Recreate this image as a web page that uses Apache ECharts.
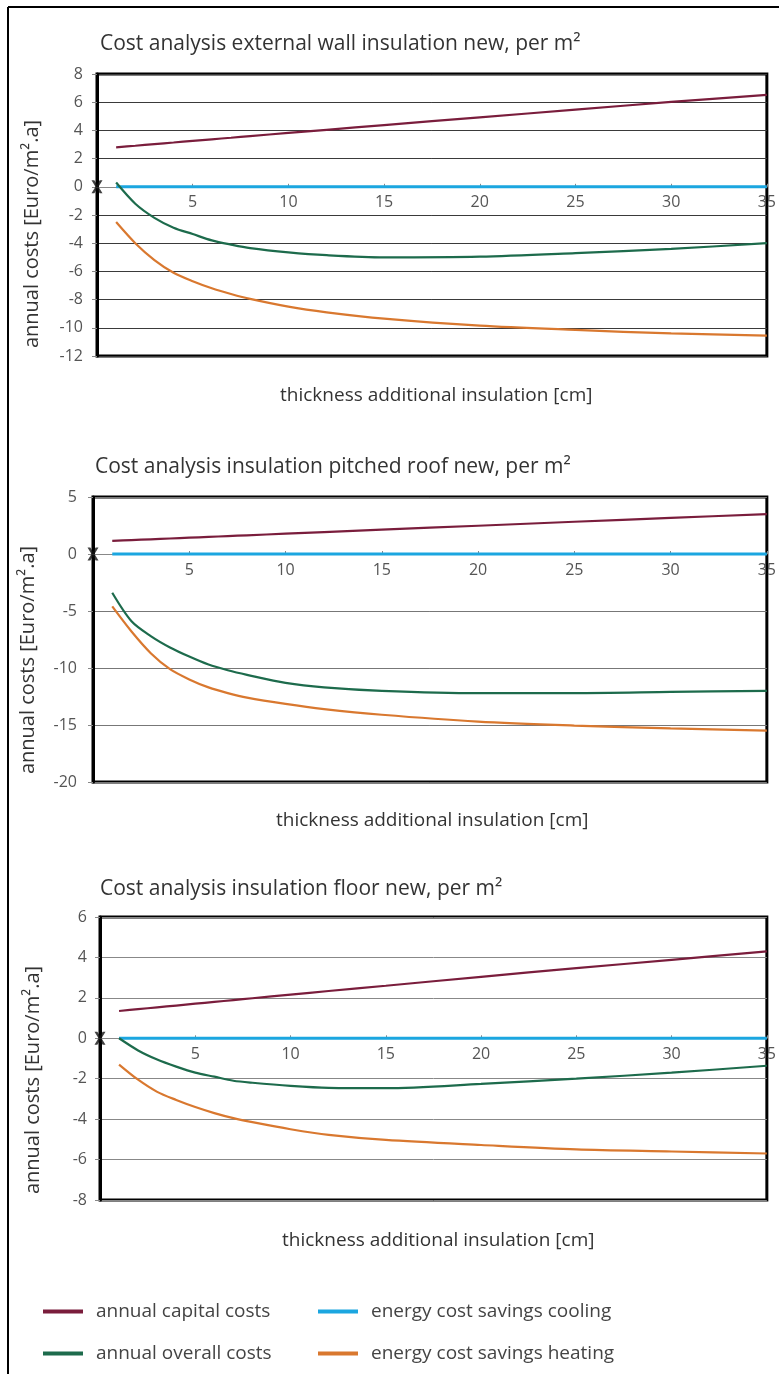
<!DOCTYPE html>
<html>
<head>
<meta charset="utf-8">
<script src="https://cdn.jsdelivr.net/npm/echarts@6/dist/echarts.min.js"></script>
<style>
html,body{margin:0;padding:0;background:#fff;}
#chart{width:779px;height:1374px;}
</style>
</head>
<body>
<div id="chart"></div>
<script>
// ---- data ----
const thickness = [1, 2, 3, 4, 5, 6, 7, 8, 10, 12, 15, 20, 25, 30, 35];

const titles = [
  'Cost analysis external wall insulation new, per m²',
  'Cost analysis insulation pitched roof new, per m²',
  'Cost analysis insulation floor new, per m²'
];
const xAxisName = 'thickness additional insulation [cm]';
const yAxisName = 'annual costs [Euro/m².a]';
const seriesNames = ['annual capital costs', 'annual overall costs', 'energy cost savings cooling', 'energy cost savings heating'];

// wall
const wallCapital = [2.8, 2.91, 3.03, 3.14, 3.26, 3.37, 3.48, 3.6, 3.82, 4.04, 4.38, 4.93, 5.47, 6.02, 6.52];
const wallOverall = [0.3, -1.2, -2.2, -2.9, -3.35, -3.8, -4.1, -4.35, -4.65, -4.85, -5.0, -4.95, -4.7, -4.4, -4.0];
const wallCooling = [0, 0, 0, 0, 0, 0, 0, 0, 0, 0, 0, 0, 0, 0, 0];
const wallHeating = [-2.5, -4.0, -5.2, -6.1, -6.7, -7.2, -7.6, -7.95, -8.5, -8.9, -9.35, -9.85, -10.15, -10.4, -10.55];
// pitched roof
const roofCapital = [1.15, 1.22, 1.29, 1.36, 1.43, 1.5, 1.57, 1.64, 1.78, 1.92, 2.13, 2.48, 2.83, 3.17, 3.5];
const roofOverall = [-3.4, -5.9, -7.2, -8.2, -9.0, -9.7, -10.2, -10.6, -11.3, -11.7, -12.0, -12.2, -12.2, -12.1, -12.0];
const roofCooling = [0, 0, 0, 0, 0, 0, 0, 0, 0, 0, 0, 0, 0, 0, 0];
const roofHeating = [-4.6, -6.8, -8.7, -10.1, -11.0, -11.7, -12.2, -12.6, -13.15, -13.6, -14.1, -14.7, -15.05, -15.3, -15.5];
// floor
const floorCapital = [1.35, 1.44, 1.53, 1.62, 1.71, 1.8, 1.89, 1.98, 2.16, 2.34, 2.6, 3.04, 3.47, 3.88, 4.3];
const floorOverall = [0, -0.6, -1.05, -1.4, -1.7, -1.9, -2.1, -2.2, -2.35, -2.45, -2.47, -2.26, -2.0, -1.7, -1.36];
const floorCooling = [0, 0, 0, 0, 0, 0, 0, 0, 0, 0, 0, 0, 0, 0, 0];
const floorHeating = [-1.3, -2.05, -2.65, -3.05, -3.4, -3.7, -3.95, -4.15, -4.5, -4.78, -5.03, -5.28, -5.5, -5.6, -5.7];

const yRanges = [[-12, 8, 2], [-20, 5, 5], [-8, 6, 2]];
const xRange = [0, 35, 5];

// ---- layout/styles ----
const colors = ['#7a1d3c', '#1d6b4c', '#1ba6e0', '#d9782f'];
const grids = [
  {left: 97, top: 74, width: 677, height: 282},
  {left: 93, top: 497, width: 680, height: 285},
  {left: 100, top: 917, width: 675, height: 283}
];
const titlePos = [[100, 34], [95, 457], [100, 879]];
const xNamePos = [[280, 386], [276, 811], [282, 1231]];
const yNamePos = [[32, 234], [28, 660], [33, 1080]];
const yLabelMargin = [14, 16, 13];
const splitColors = ['#3a3a3a', '#777', '#888'];
const dataSets = [
  [wallCapital, wallOverall, wallCooling, wallHeating],
  [roofCapital, roofOverall, roofCooling, roofHeating],
  [floorCapital, floorOverall, floorCooling, floorHeating]
];
const txtFont = '"Open Sans", "DejaVu Sans", sans-serif';

const pair = (ys) => thickness.map((x, i) => [x, ys[i]]);
const crossPath = 'path://M0,0 L2.6,0 L5,4.2 L7.4,0 L10,0 L6.4,6 L10,12 L7.4,12 L5,7.8 L2.6,12 L0,12 L3.6,6 Z';

const title = [];
const graphic = [
  {type: 'line', shape: {x1: 8, y1: 7, x2: 779, y2: 7}, style: {stroke: '#000', lineWidth: 2}, silent: true},
  {type: 'line', shape: {x1: 8, y1: 7, x2: 8, y2: 1374}, style: {stroke: '#000', lineWidth: 2}, silent: true}
];
const xAxis = [], yAxis = [], series = [];
for (let g = 0; g < 3; g++) {
  const [ymin, ymax, yint] = yRanges[g];
  title.push({text: titles[g], left: titlePos[g][0], top: titlePos[g][1], padding: 0,
    textStyle: {fontFamily: txtFont, fontSize: 21, fontWeight: 'normal', color: '#333'}});
  title.push({text: xAxisName, left: xNamePos[g][0], top: xNamePos[g][1], padding: 0,
    textStyle: {fontFamily: txtFont, fontSize: 19, fontWeight: 'normal', color: '#333'}});
  graphic.push({type: 'text', x: yNamePos[g][0], y: yNamePos[g][1], rotation: Math.PI / 2, silent: true,
    style: {text: yAxisName, fontFamily: txtFont, fontSize: 20, fill: '#333', align: 'center', verticalAlign: 'middle'}});
  // x axis sits on the y=0 line: offset derived from the y scale
  const zeroFromBottom = grids[g].height * (0 - ymin) / (ymax - ymin);
  xAxis.push({
    type: 'value', gridIndex: g, min: xRange[0], max: xRange[1], interval: xRange[2],
    position: 'bottom', offset: -zeroFromBottom,
    axisLine: {onZero: false, lineStyle: {color: '#888', width: 1}},
    axisTick: {show: true, inside: true, length: 3, lineStyle: {color: '#888'}},
    axisLabel: {showMinLabel: false, color: '#555', fontSize: 16, fontFamily: txtFont, margin: 8},
    splitLine: {show: false}
  });
  yAxis.push({
    type: 'value', gridIndex: g, min: ymin, max: ymax, interval: yint,
    axisLine: {show: true, lineStyle: {color: '#000', width: 3}},
    axisTick: {show: true, length: 5, lineStyle: {color: '#888'}},
    axisLabel: {color: '#555', fontSize: 16, fontFamily: txtFont, margin: yLabelMargin[g]},
    splitLine: {show: true, lineStyle: {color: splitColors[g], width: 1}}
  });
  for (let s = 0; s < 4; s++) {
    series.push({
      name: seriesNames[s], type: 'line', xAxisIndex: g, yAxisIndex: g,
      data: pair(dataSets[g][s]), showSymbol: false, symbol: 'none', smooth: 0.3,
      lineStyle: {color: colors[s], width: s === 2 ? 3 : 2.2}, itemStyle: {color: colors[s]},
      z: s === 2 ? 3 : 4, silent: true
    });
  }
  series.push({
    type: 'scatter', xAxisIndex: g, yAxisIndex: g, data: [[0, 0]], clip: false,
    symbol: crossPath, symbolSize: [11, 13], itemStyle: {color: '#111'}, z: 20, silent: true
  });
}

const legendText = {fontFamily: txtFont, fontSize: 19, color: '#444', padding: [0, 0, 0, 8]};
const chart = echarts.init(document.getElementById('chart'), null, {renderer: 'canvas'});
chart.setOption({
  animation: false,
  backgroundColor: '#fff',
  title: title,
  grid: grids.map(g => Object.assign({show: true, borderColor: '#000', borderWidth: 3, backgroundColor: 'transparent'}, g)),
  xAxis: xAxis,
  yAxis: yAxis,
  legend: [
    {data: [seriesNames[0], seriesNames[1]], orient: 'vertical', left: 43, top: 1302, itemGap: 23,
      itemWidth: 40, itemHeight: 4, icon: 'rect', textStyle: legendText, selectedMode: false, padding: 0},
    {data: [seriesNames[2], seriesNames[3]], orient: 'vertical', left: 318, top: 1302, itemGap: 23,
      itemWidth: 40, itemHeight: 4, icon: 'rect', textStyle: legendText, selectedMode: false, padding: 0}
  ],
  graphic: graphic,
  series: series
});
</script>
</body>
</html>
